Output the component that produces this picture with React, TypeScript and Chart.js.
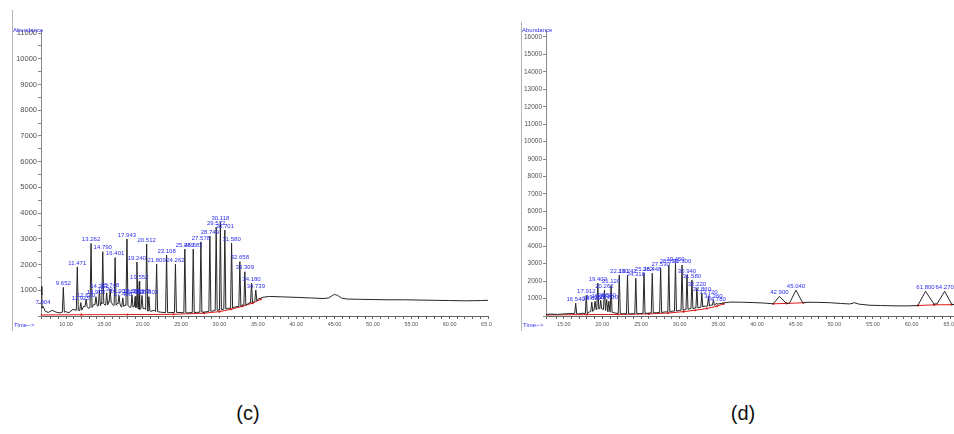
import React, { useEffect, useRef } from 'react';
import { Chart, registerables } from 'chart.js';

Chart.register(...registerables);

// ---------------- Panel (c) data ----------------
const cTraceTime = [6.74, 6.85, 7.0, 7.3, 7.7, 8.2, 8.7, 9.2, 9.9, 10.4, 10.9, 11.7, 12.3, 12.9, 13.6, 14.1, 14.6, 15.1, 15.6, 16.2, 16.7, 17.2, 17.7, 18.3, 18.9, 19.6, 20.2, 21.0, 21.5, 22.3, 23.4, 24.6, 25.8, 27.0, 28.0, 29.0, 30.0, 31.0, 32.0, 33.0, 34.0, 35.0, 35.7, 36.5, 38.0, 40.0, 42.0, 43.5, 44.2, 44.7, 45.0, 45.4, 45.9, 46.6, 48.0, 50.0, 52.0, 54.0, 56.0, 58.0, 60.0, 62.0, 64.0, 65.0];
const cTraceAbund = [1150, 820, 300, 180, 140, 220, 150, 120, 170, 130, 260, 210, 380, 300, 450, 380, 520, 420, 560, 400, 480, 350, 430, 330, 380, 260, 300, 180, 220, 150, 130, 140, 120, 140, 150, 190, 230, 290, 350, 430, 530, 650, 730, 760, 745, 725, 700, 680, 700, 790, 840, 800, 700, 660, 650, 640, 630, 630, 620, 610, 600, 590, 600, 610];
const cPeakTime = [7.004, 9.652, 11.471, 11.925, 12.62, 13.262, 13.903, 14.352, 14.79, 15.301, 15.748, 16.401, 16.902, 17.4, 17.943, 18.598, 19.012, 19.24, 19.552, 19.905, 20.512, 20.803, 21.809, 23.108, 24.262, 25.489, 26.583, 27.578, 28.749, 29.572, 30.118, 30.701, 31.58, 32.658, 33.309, 34.18, 34.739];
const cPeakHeight = [380, 1110, 1910, 520, 650, 2820, 750, 1000, 2500, 900, 1050, 2270, 800, 700, 2990, 820, 760, 2100, 1350, 800, 2800, 750, 2020, 2370, 2020, 2600, 2600, 2880, 3110, 3460, 3650, 3340, 2840, 2110, 1720, 1280, 1010];
const cPeakBase = [300, 150, 220, 230, 370, 330, 440, 400, 480, 430, 540, 420, 470, 370, 420, 350, 370, 330, 270, 290, 250, 190, 170, 130, 140, 125, 135, 150, 180, 215, 240, 270, 310, 370, 420, 510, 590];
const cRedTime = [6.74, 12, 18, 24, 28, 30, 31.5, 33, 34.3, 35.4];
const cRedAbund = [40, 50, 55, 65, 110, 170, 260, 380, 500, 650];
const cBumpTime: number[] = [];
const cBumpHeight: number[] = [];
const cYTicks = [0, 500, 1000, 1500, 2000, 2500, 3000, 3500, 4000, 4500, 5000, 5500, 6000, 6500, 7000, 7500, 8000, 8500, 9000, 9500, 10000, 10500, 11000];

// ---------------- Panel (d) data ----------------
const dTraceTime = [12.7, 13.4, 14.2, 15.0, 15.8, 16.9, 17.5, 18.3, 18.9, 19.6, 20.4, 21.0, 21.6, 22.6, 23.7, 24.8, 25.9, 27.0, 28.0, 29.0, 30.0, 31.2, 32.0, 33.0, 34.0, 35.0, 35.8, 36.6, 38.0, 39.5, 41.0, 42.1, 42.9, 43.8, 44.2, 45.04, 45.9, 46.6, 48.0, 49.5, 50.8, 52.0, 52.6, 53.2, 54.5, 56.0, 58.0, 59.5, 60.8, 61.8, 62.9, 63.3, 64.27, 65.2, 66.0];
const dTraceAbund = [90, 110, 90, 120, 140, 120, 160, 230, 380, 420, 360, 230, 170, 130, 120, 140, 160, 190, 230, 280, 330, 410, 470, 550, 620, 690, 760, 800, 790, 770, 740, 700, 1130, 720, 740, 1480, 760, 790, 780, 760, 720, 690, 760, 680, 620, 600, 580, 580, 600, 1420, 680, 700, 1420, 660, 650];
const dPeakTime = [16.54, 17.912, 18.62, 19.05, 19.402, 19.78, 20.262, 20.55, 20.83, 21.12, 22.18, 23.242, 24.318, 25.382, 26.448, 27.53, 28.59, 29.45, 30.3, 30.94, 31.58, 32.22, 32.86, 33.72, 34.36, 34.78];
const dPeakHeight = [730, 1180, 800, 850, 1880, 900, 1490, 950, 850, 1750, 2350, 2350, 2160, 2450, 2450, 2740, 2920, 3020, 2920, 2350, 2060, 1590, 1300, 1110, 920, 750];
const dPeakBase = [130, 140, 260, 370, 400, 410, 370, 320, 260, 220, 150, 125, 130, 150, 175, 200, 240, 280, 330, 380, 420, 460, 510, 570, 620, 660];
const dRedTime = [12.7, 18, 22, 26, 28.5, 30.5, 32, 33.5, 34.8, 35.7, 38, 42.1, 43.8, 46.0, 52, 60.8, 62.9, 65.2];
const dRedAbund = [60, 80, 90, 120, 170, 250, 330, 430, 560, 700, null, 700, 720, 760, null, 600, 640, 650];
const dBumpTime = [42.9, 45.04, 61.8, 64.27];
const dBumpHeight = [1130, 1480, 1420, 1420];
const dYTicks = [0, 1000, 2000, 3000, 4000, 5000, 6000, 7000, 8000, 9000, 10000, 11000, 12000, 13000, 14000, 15000, 16000];

const captions = ['(c)', '(d)'];

const FONT = '"Liberation Sans", Arial, sans-serif';

type Spec = {
  traceT: number[]; traceA: number[];
  peakT: number[]; peakH: number[]; peakB: number[];
  redT: number[]; redA: (number | null)[];
  bumpT: number[]; bumpH: number[]; yTicks: number[];
  xMin: number; xMax: number; yMax: number;
  yWidth: number; padRight: number; yFont: number; frameX: number; frameTop: number;
};

function buildTrace(s: Spec) {
  const hw = 0.13;
  const pts = s.traceT.map((x, i) => ({ x, y: s.traceA[i] }));
  s.peakT.forEach((t, i) => {
    pts.push({ x: t - hw, y: s.peakB[i] }, { x: t, y: s.peakH[i] }, { x: t + hw, y: s.peakB[i] });
  });
  pts.sort((a, b) => a.x - b.x);
  return pts;
}

function isMult(v: number, m: number) {
  const r = Math.round(v);
  return Math.abs(v - r) < 1e-6 && r % m === 0;
}

function makeConfig(s: Spec): any {
  const overlay = {
    id: 'overlay',
    afterDraw(chart: any) {
      const ctx = chart.ctx;
      const xs = chart.scales.x;
      const ys = chart.scales.y;
      ctx.save();
      ctx.strokeStyle = '#b4b4b4';
      ctx.lineWidth = 1;
      ctx.beginPath();
      ctx.moveTo(s.frameX + 0.5, s.frameTop);
      ctx.lineTo(s.frameX + 0.5, 331);
      ctx.stroke();
      ctx.fillStyle = '#2d2df0';
      ctx.font = '6px ' + FONT;
      ctx.textAlign = 'left';
      ctx.textBaseline = 'middle';
      ctx.fillText('Abundance', s.frameX + 1, 30);
      ctx.fillText('Time-->', s.frameX + 2, 325);
      ctx.textAlign = 'center';
      ctx.textBaseline = 'bottom';
      const lab = (t: number, h: number) => {
        ctx.fillText(t.toFixed(3), xs.getPixelForValue(t), ys.getPixelForValue(h) - 1);
      };
      s.peakT.forEach((t, i) => lab(t, s.peakH[i]));
      s.bumpT.forEach((t, i) => lab(t, s.bumpH[i]));
      ctx.restore();
    },
  };
  return {
    type: 'line',
    data: {
      datasets: [
        {
          data: buildTrace(s),
          borderColor: '#262626',
          borderWidth: 1,
          pointRadius: 0,
          tension: 0,
          fill: false,
        },
        {
          data: s.redT.map((x, i) => ({ x, y: s.redA[i] })),
          borderColor: '#e01818',
          borderWidth: 1,
          pointRadius: 1.1,
          pointBackgroundColor: '#e01818',
          pointBorderWidth: 0,
          spanGaps: false,
          fill: false,
        },
      ],
    },
    options: {
      animation: false,
      responsive: false,
      parsing: false,
      layout: { padding: { top: 30, left: 0, right: s.padRight, bottom: 0 } },
      plugins: { legend: { display: false }, tooltip: { enabled: false } },
      scales: {
        x: {
          type: 'linear',
          min: s.xMin,
          max: s.xMax,
          grid: { drawOnChartArea: false, tickLength: 3, color: '#666' },
          border: { color: '#666', width: 1 },
          ticks: {
            stepSize: 1,
            autoSkip: false,
            maxRotation: 0,
            padding: 2,
            color: '#555',
            font: { family: FONT, size: 5.5 },
            callback: (v: number) => (isMult(v, 5) ? Number(v).toFixed(2) : ''),
          },
          afterFit: (sc: any) => {
            sc.height = 24;
            sc.paddingLeft = 0;
            sc.paddingRight = 0;
          },
        },
        y: {
          type: 'linear',
          position: 'left',
          min: 0,
          max: s.yMax,
          grid: { drawOnChartArea: false, tickLength: 3, color: '#888' },
          border: { color: '#888', width: 1 },
          afterBuildTicks: (sc: any) => {
            sc.ticks = s.yTicks.map((value) => ({ value }));
          },
          ticks: {
            autoSkip: false,
            padding: 1,
            color: '#505050',
            font: { family: FONT, size: s.yFont },
            callback: (v: number) => (v > 0 && isMult(v, 1000) ? String(Math.round(v)) : ''),
          },
          afterFit: (sc: any) => {
            sc.width = s.yWidth;
            sc.paddingTop = 0;
            sc.paddingBottom = 0;
          },
        },
      },
    },
    plugins: [overlay],
  };
}

const specC: Spec = {
  traceT: cTraceTime, traceA: cTraceAbund,
  peakT: cPeakTime, peakH: cPeakHeight, peakB: cPeakBase,
  redT: cRedTime, redA: cRedAbund,
  bumpT: cBumpTime, bumpH: cBumpHeight, yTicks: cYTicks,
  xMin: 6.74, xMax: 65, yMax: 11117,
  yWidth: 41, padRight: 3.6, yFont: 7.5, frameX: 12, frameTop: 10,
};

const specD: Spec = {
  traceT: dTraceTime, traceA: dTraceAbund,
  peakT: dPeakTime, peakH: dPeakHeight, peakB: dPeakBase,
  redT: dRedTime, redA: dRedAbund as any,
  bumpT: dBumpTime, bumpH: dBumpHeight, yTicks: dYTicks,
  xMin: 12.7, xMax: 66, yMax: 16400,
  yWidth: 46, padRight: 0, yFont: 6.5, frameX: 21, frameTop: 22,
};

function Panel({ spec, left, width }: { spec: Spec; left: number; width: number }) {
  const ref = useRef<HTMLCanvasElement>(null);
  useEffect(() => {
    const chart = new Chart(ref.current as HTMLCanvasElement, makeConfig(spec));
    return () => chart.destroy();
  }, [spec]);
  return (
    <canvas
      ref={ref}
      width={width}
      height={340}
      style={{ position: 'absolute', left, top: 0, width, height: 340 }}
    />
  );
}

export default function App() {
  const capStyle = (cx: number): React.CSSProperties => ({
    position: 'absolute',
    left: cx,
    top: 413,
    transform: 'translate(-50%, -50%)',
    fontFamily: FONT,
    fontSize: 20,
    color: '#111',
    whiteSpace: 'nowrap',
  });
  return (
    <div style={{ position: 'fixed', left: 0, top: 0, width: 954, height: 434, overflow: 'hidden', background: '#fff' }}>
      <Panel spec={specC} left={0} width={492} />
      <Panel spec={specD} left={500} width={462} />
      <div style={capStyle(248)}>{captions[0]}</div>
      <div style={capStyle(743)}>{captions[1]}</div>
    </div>
  );
}
